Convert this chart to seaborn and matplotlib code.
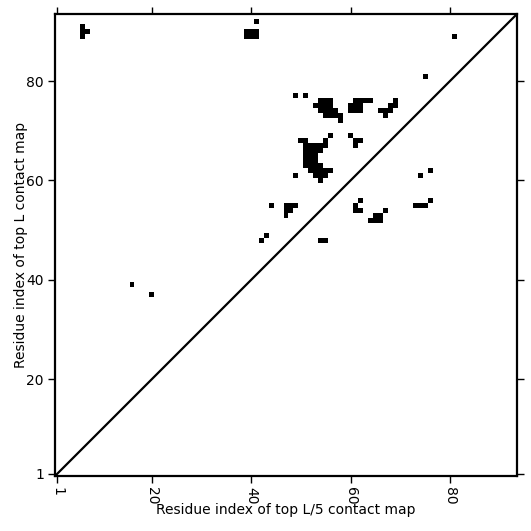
import numpy as np
import matplotlib
matplotlib.use("Agg")
import matplotlib.pyplot as plt
import seaborn as sns

# Sequence length (residues)
n_residues = 93

# Contact cells: x = residue index (column), y = residue index (row)
contact_x = [6, 6, 6, 7,
             39, 40, 41, 39, 40, 41, 41,
             81, 75, 49, 51,
             54, 55, 56, 53, 54, 55, 56, 54, 55, 56, 57, 55, 56, 57, 58, 58,
             61, 62, 63, 64, 60, 61, 62, 60, 61, 62,
             69, 68, 69, 66, 67, 68, 67,
             56, 50, 51, 55, 51, 52, 53, 54, 55, 51, 52, 53, 54, 51, 52, 53,
             51, 52, 53, 51, 52, 53, 54, 52, 53, 54, 55, 56, 53, 54, 55, 54, 49,
             60, 61, 62, 61,
             76, 74,
             73, 74, 75, 76,
             62, 61, 61, 62,
             64, 65, 66, 65, 66, 67,
             44, 47, 48, 49, 47, 48, 47,
             43, 42, 54, 55,
             16, 20]
contact_y = [89, 90, 91, 90,
             89, 89, 89, 90, 90, 90, 92,
             89, 81, 77, 77,
             76, 76, 76, 75, 75, 75, 75, 74, 74, 74, 74, 73, 73, 73, 73, 72,
             76, 76, 76, 76, 75, 75, 75, 74, 74, 74,
             76, 75, 75, 74, 74, 74, 73,
             69, 68, 68, 68, 67, 67, 67, 67, 67, 66, 66, 66, 66, 65, 65, 65,
             64, 64, 64, 63, 63, 63, 63, 62, 62, 62, 62, 62, 61, 61, 61, 60, 61,
             69, 68, 68, 67,
             62, 61,
             55, 55, 55, 56,
             56, 55, 54, 54,
             52, 52, 52, 53, 53, 54,
             55, 55, 55, 55, 54, 54, 53,
             49, 48, 48, 48,
             39, 37]

tick_labels = [1, 20, 40, 60, 80]

# Build the contact matrix
contact = np.zeros((n_residues, n_residues))
for cx, cy in zip(contact_x, contact_y):
    contact[cy - 1, cx - 1] = 1

fig = plt.figure(figsize=(5.31, 5.31), dpi=100)
ax = fig.add_axes([55 / 531, 55 / 531, 462 / 531, 462 / 531])

sns.heatmap(contact, ax=ax, cmap=["white", "black"], cbar=False,
            linewidths=0, square=False, xticklabels=False, yticklabels=False)

ax.set_xlim(0, n_residues)
ax.set_ylim(0, n_residues)

# diagonal
ax.plot([0, n_residues], [0, n_residues], color="black", lw=1.6)

ticks = [t - 0.5 for t in tick_labels]
ax.set_xticks(ticks)
ax.set_xticklabels([str(t) for t in tick_labels], rotation=270, fontsize=10)
ax.set_yticks(ticks)
ax.set_yticklabels([str(t) for t in tick_labels], rotation=0, fontsize=10)

for side in ["left", "right", "top", "bottom"]:
    ax.spines[side].set_visible(True)
    ax.spines[side].set_linewidth(1.6)
    ax.spines[side].set_color("black")

ax.tick_params(axis="both", which="both", direction="out", length=5, width=1,
               top=True, right=True, bottom=True, left=True,
               labeltop=False, labelright=False, colors="black", pad=3)

ax.set_xlabel("Residue index of top L/5 contact map", fontsize=10, labelpad=-1)
ax.set_ylabel("Residue index of top L contact map", fontsize=10, labelpad=-1)

fig.savefig("out.png", dpi=100)
